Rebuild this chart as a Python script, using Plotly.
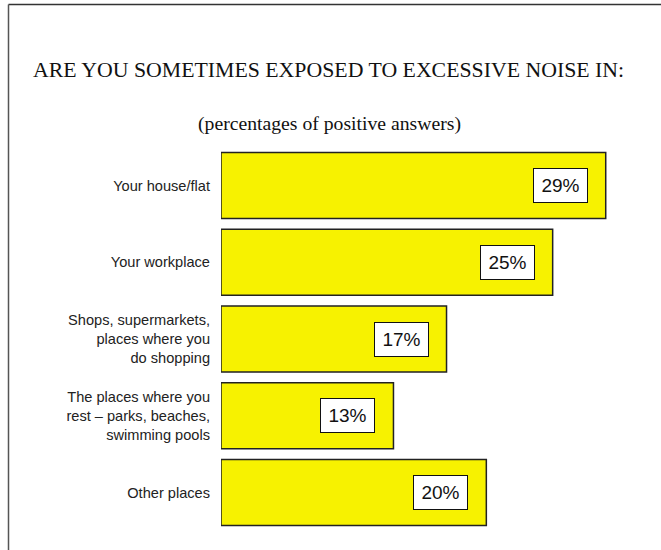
import plotly.graph_objects as go

categories = [
    "Your house/flat",
    "Your workplace",
    "Shops, supermarkets,<br>places where you<br>do shopping",
    "The places where you<br>rest – parks, beaches,<br>swimming pools",
    "Other places",
]
values = [29, 25, 17, 13, 20]
value_labels = ["29%", "25%", "17%", "13%", "20%"]

title_text = "ARE YOU SOMETIMES EXPOSED TO EXCESSIVE NOISE IN:"
subtitle_text = "(percentages of positive answers)"

W, H = 661, 550
ML, MR, MT, MB = 221, 42, 147, 19
PW = W - ML - MR
PH = H - MT - MB


def px_x(p):
    return (p - ML) / PW


def px_y(p):
    return (H - MB - p) / PH


fig = go.Figure()
fig.add_trace(go.Bar(
    x=values,
    y=categories,
    orientation="h",
    width=0.86,
    marker=dict(color="#F7F200", line=dict(color="#222222", width=1.5)),
    hoverinfo="skip",
))

annotations = []
for c, v, t in zip(categories, values, value_labels):
    annotations.append(dict(
        x=v, y=c, xref="x", yref="y", text=t, showarrow=False,
        xanchor="right", yanchor="middle", xshift=-18,
        font=dict(family="Liberation Sans, Arial", size=19, color="#111111"),
        bgcolor="white", bordercolor="#111111", borderwidth=1, borderpad=6,
        width=41, height=21,
    ))

annotations.append(dict(
    x=px_x(328), y=px_y(70), xref="paper", yref="paper", text=title_text,
    showarrow=False, xanchor="center", yanchor="middle",
    font=dict(family="Liberation Serif, Times New Roman", size=21.8, color="#111111"),
))
annotations.append(dict(
    x=px_x(329), y=px_y(123), xref="paper", yref="paper", text=subtitle_text,
    showarrow=False, xanchor="center", yanchor="middle",
    font=dict(family="Liberation Serif, Times New Roman", size=19.7, color="#111111"),
))

frame_lines = [
    dict(type="line", xref="paper", yref="paper",
         x0=px_x(8.5), x1=px_x(661), y0=px_y(4.5), y1=px_y(4.5),
         line=dict(color="#333333", width=1.5), layer="below"),
    dict(type="line", xref="paper", yref="paper",
         x0=px_x(8.5), x1=px_x(8.5), y0=px_y(4.5), y1=px_y(550),
         line=dict(color="#555555", width=1.5), layer="below"),
]

fig.update_layout(
    width=W, height=H,
    margin=dict(l=ML, r=MR, t=MT, b=MB, pad=0),
    paper_bgcolor="white", plot_bgcolor="white",
    showlegend=False,
    annotations=annotations,
    shapes=frame_lines,
    xaxis=dict(range=[0, 30], visible=False, fixedrange=True),
    yaxis=dict(
        autorange="reversed", showgrid=False, zeroline=False, showline=False,
        ticks="", ticklabelstandoff=10,
        tickfont=dict(family="Liberation Sans, Arial", size=14.6, color="#222222"),
        fixedrange=True,
    ),
)

fig.write_html(
    "out.html",
    config=dict(displayModeBar=False),
    post_script=(
        "document.body.style.margin='0';"
        "document.body.style.overflow='hidden';"
        "document.documentElement.style.overflow='hidden';"
    ),
)
